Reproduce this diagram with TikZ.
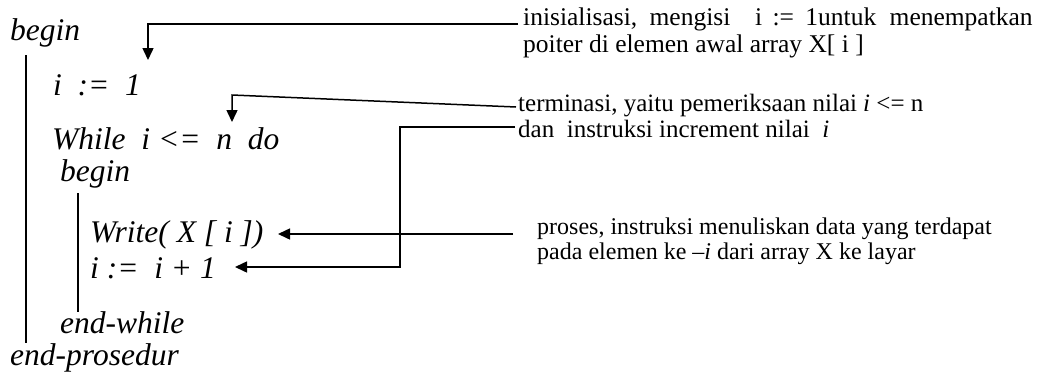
\documentclass[tikz,border=0pt]{standalone}
\usepackage{fontspec}
\setmainfont{Liberation Serif}
\usetikzlibrary{arrows.meta}
\begin{document}
\begin{tikzpicture}[x=1pt,y=-1pt,
  code/.style={anchor=base west,inner sep=0pt,font=\itshape\fontsize{31.5}{34}\selectfont},
  ann/.style={anchor=base west,inner sep=0pt,align=left},
  conn/.style={line width=1.5pt,-{Triangle[length=12pt,width=11pt]}},
  bar/.style={line width=1.3pt}]
\useasboundingbox (0,0) rectangle (1047,375);
% code
\node[code] (b1) at (10,40) {begin};
\node[code] (init) at (53,95) {i \ :=\ \ 1};
\node[code] (wh) at (52,149) {While\ \ i <=\ \ n\ \ do};
\node[code] (b2) at (60,181) {begin};
\node[code] (wr) at (90,242) {Write( X [ i ])};
\node[code] (inc) at (90,278) {i :=\ \ i + 1};
\node[code] (ew) at (60,333) {end-while};
\node[code] (ep) at (10,365) {end-prosedur};
% block bars
\coordinate (o1) at (26,55); \coordinate (o2) at (26,343);
\coordinate (i1) at (78,193); \coordinate (i2) at (78,312);
\draw[bar] (o1) -- (o2);
\draw[bar] (i1) -- (i2);
% annotations (anchored at the baseline of their last line)
\node[ann,font=\fontsize{25.5}{27}\selectfont] (a1) at (523,52) {inisialisasi,\hspace{6pt} mengisi\ \ \hspace{12pt}i\hspace{4pt} :=\hspace{5pt} 1untuk\hspace{7pt} menempatkan\\poiter di elemen awal array X[ i ]};
\node[ann,font=\fontsize{25}{26}\selectfont] (a2) at (518,137) {terminasi, yaitu pemeriksaan nilai \textit{i} <= n\\dan\ \ instruksi increment nilai\ \ \textit{i}};
\node[ann,font=\fontsize{24}{25}\selectfont] (a3) at (537,259) {proses, instruksi menuliskan data yang terdapat\\pada elemen ke --\textit{i} dari array X ke layar};
% connectors
\coordinate (c1s) at (518,24); \coordinate (c1k) at (148,24); \coordinate (c1e) at (148,60);
\draw[conn] (c1s) -- (c1k) -- (c1e);
\coordinate (c2s) at (516,107); \coordinate (c2k) at (232,95); \coordinate (c2e) at (232,122);
\draw[conn] (c2s) -- (c2k) -- (c2e);
\coordinate (c3s) at (515,127); \coordinate (c3k) at (400,127); \coordinate (c3m) at (400,267); \coordinate (c3e) at (235,267);
\draw[conn] (c3s) -- (c3k) -- (c3m) -- (c3e);
\coordinate (c4s) at (513,234); \coordinate (c4e) at (278,234);
\draw[conn] (c4s) -- (c4e);
\end{tikzpicture}
\end{document}
